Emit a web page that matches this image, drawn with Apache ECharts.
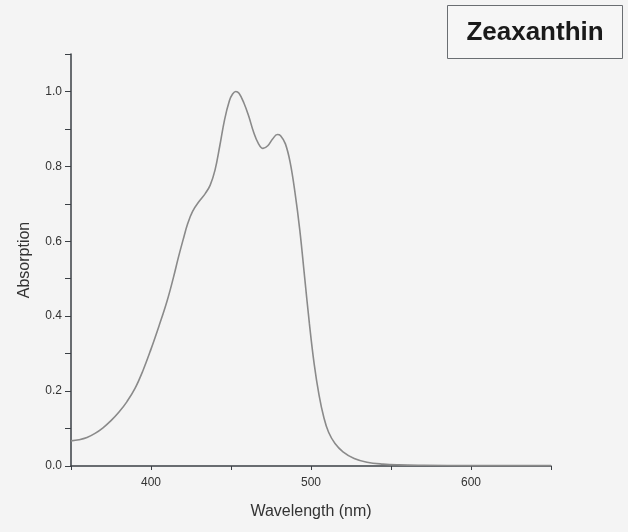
<!DOCTYPE html>
<html>
<head>
<meta charset="utf-8">
<script src="https://cdn.jsdelivr.net/npm/echarts@6/dist/echarts.min.js"></script>
<style>
html,body{margin:0;padding:0;background:#f4f4f4;}
#c{width:628px;height:532px;}
</style>
</head>
<body>
<div id="c"></div>
<script>
const title = "Zeaxanthin";
const xName = "Wavelength (nm)";
const yName = "Absorption";
const wavelengths = [350, 355, 360, 365, 370, 375, 380, 385, 390, 395, 400, 405, 410, 414, 417, 420, 423, 426, 430, 434, 437, 440, 443, 446, 449, 451, 453, 455, 458, 461, 464, 467, 470, 473, 476, 479, 481, 484, 487, 490, 493, 496, 499, 502, 505, 508, 511, 515, 520, 527, 535, 545, 555, 570, 600, 650];
const absorption = [0.067, 0.070, 0.076, 0.087, 0.102, 0.121, 0.144, 0.172, 0.207, 0.255, 0.312, 0.374, 0.440, 0.503, 0.555, 0.603, 0.648, 0.680, 0.706, 0.728, 0.750, 0.790, 0.855, 0.925, 0.975, 0.993, 1.000, 0.995, 0.970, 0.935, 0.893, 0.862, 0.848, 0.855, 0.873, 0.885, 0.882, 0.860, 0.810, 0.730, 0.630, 0.505, 0.380, 0.272, 0.190, 0.130, 0.090, 0.060, 0.038, 0.020, 0.010, 0.005, 0.003, 0.002, 0.001, 0.001];
const xTicks = [400, 500, 600];
const yTicks = [0.0, 0.2, 0.4, 0.6, 0.8, 1.0];

const data = wavelengths.map((w, i) => [w, absorption[i]]);
const chart = echarts.init(document.getElementById('c'));
const axisColor = '#3a3f44';
const font = '"Liberation Sans", Arial, sans-serif';
chart.setOption({
  backgroundColor: '#f4f4f4',
  animation: false,
  graphic: [{
    type: 'group',
    left: 447, top: 5,
    children: [
      { type: 'rect', shape: { x: 0, y: 0, width: 175, height: 53 },
        style: { fill: '#f6f6f6', stroke: '#6a6e72', lineWidth: 1 } },
      { type: 'text', x: 87.5, y: 27.5,
        style: { text: title, font: 'bold 26px ' + font, fill: '#1a1a1a', align: 'center', verticalAlign: 'middle' } }
    ]
  }],
  grid: { left: 71, right: 77, top: 54, bottom: 66 },
  xAxis: {
    type: 'value', min: 350, max: 650, interval: 50,
    name: xName, nameLocation: 'middle', nameGap: 38,
    nameTextStyle: { fontFamily: font, fontSize: 16, color: '#333' },
    axisLine: { show: true, lineStyle: { color: axisColor, width: 1.5 } },
    axisTick: { show: true, inside: false, length: 4, lineStyle: { color: axisColor } },
    axisLabel: {
      margin: 11, fontFamily: font, fontSize: 12, color: '#333',
      formatter: v => xTicks.includes(v) ? String(v) : ''
    },
    splitLine: { show: false }
  },
  yAxis: {
    type: 'value', min: 0, max: 1.1, interval: 0.1,
    name: yName, nameLocation: 'middle', nameGap: 38,
    nameTextStyle: { fontFamily: font, fontSize: 16, color: '#333' },
    axisLine: { show: true, lineStyle: { color: axisColor, width: 1.5 } },
    axisTick: { show: true, inside: false, length: 6, lineStyle: { color: axisColor } },
    axisLabel: {
      margin: 9, fontFamily: font, fontSize: 12, color: '#333',
      formatter: v => {
        const r = Math.round(v * 10) / 10;
        return yTicks.some(t => Math.abs(t - r) < 1e-6) ? r.toFixed(1) : '';
      }
    },
    splitLine: { show: false }
  },
  series: [{
    type: 'line', data: data, smooth: 0.4, showSymbol: false,
    lineStyle: { color: '#8a8a8a', width: 1.6 }
  }]
});
</script>
</body>
</html>
